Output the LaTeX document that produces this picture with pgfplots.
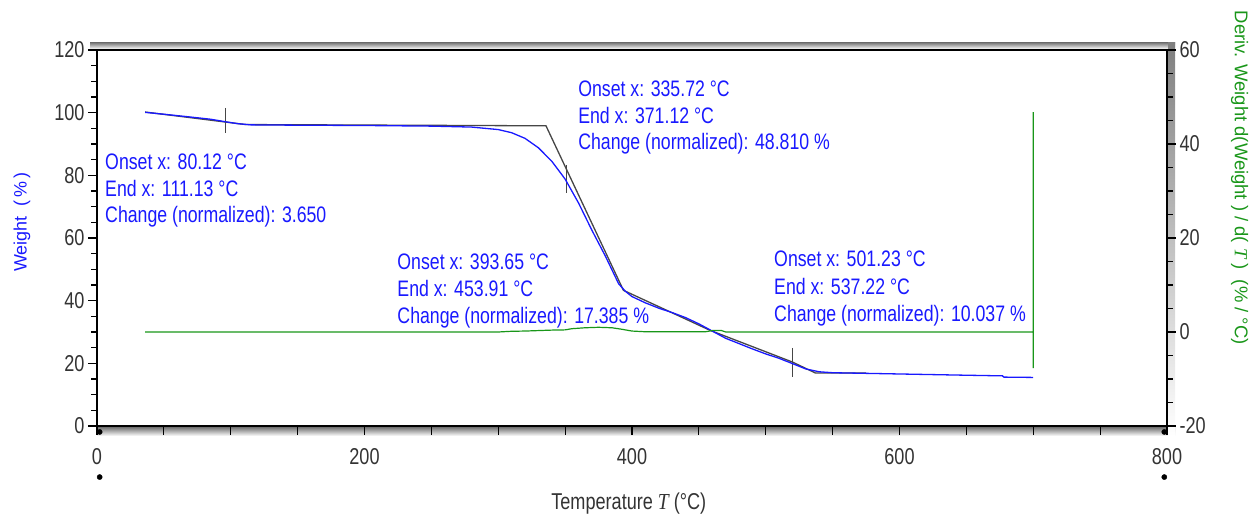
\documentclass[border=0pt]{standalone}
\usepackage{pgfplots}
\pgfplotsset{compat=1.18}
\usepackage{fontspec}
\setmainfont{Liberation Sans}
\newfontfamily\narrow[FakeStretch=0.79]{Liberation Sans}
\newfontfamily\serifnarrow[FakeStretch=0.85]{Liberation Serif}
\newfontfamily\serifit{Liberation Serif}
\definecolor{dtg}{RGB}{25,150,25}
\definecolor{tgblue}{RGB}{25,25,255}
\definecolor{tang}{RGB}{70,70,70}
\definecolor{shade}{RGB}{228,228,228}

\begin{document}
\begin{tikzpicture}[x=1bp,y=1bp]
\path[use as bounding box] (0,0) rectangle (1257,522);
% decorative shadow bands around the frame
\fill[shade] (90,473) rectangle (1175,479);
\fill[shade] (97,86) rectangle (1175,94);
\fill[shade] (1168,86) rectangle (1175,479);

\pgfplotsset{
  myframe/.style={
    at={(97bp,96bp)}, anchor=south west,
    scale only axis, width=1070bp, height=376bp,
    xmin=0, xmax=800,
    tick align=outside,
    major tick length=9bp, minor tick length=6bp,
    every tick/.style={black, line width=1.1bp},
    axis line style={line width=1.5bp, black},
    ticklabel style={font=\narrow\fontsize{23}{23}\selectfont, text=black!80},
    /pgf/number format/assume math mode=true,
    clip=false,
  }
}

\begin{axis}[myframe,
  ymin=0, ymax=120,
  xtick={0,50,...,800},
  xticklabels={0,,,,200,,,,400,,,,600,,,,800},
  ytick={0,20,...,120}, minor y tick num=3,
  xtick pos=bottom, ytick pos=left,
  xticklabel style={yshift=-10bp},
]
% tangent construction lines
\addplot[tang, line width=1.3bp] coordinates {
 (36,100.2) (111.1,96.2) (335.7,95.8) (393.6,43.3) (458,30.6) (520,20.4) (537.2,16.9) (575,16.9)
};
% crosshair markers
\addplot[tang, line width=1.1bp] coordinates {(96,101.5) (96,93.5)};
\addplot[tang, line width=1.1bp] coordinates {(350.7,83.3) (350.7,74.4)};
\addplot[tang, line width=1.1bp] coordinates {(520,24.9) (520,15.6)};
% TGA weight curve
\addplot[tgblue, line width=1.3bp] coordinates {
 (36,100.1) (50,99.5) (70,98.6) (85,97.9) (96,97.1) (105,96.5) (115,96.1) (150,96.0)
 (200,95.9) (250,95.7) (280,95.4) (300,94.6) (310,93.6) (320,91.8) (330,88.8)
 (340,84.5) (350,78.8) (360,71.2) (370,62.5) (380,54.3) (390,45.4) (395,43.0)
 (400,41.3) (410,39.3) (420,37.6) (430,36.2) (440,34.6) (450,32.6) (460,30.3)
 (470,28.0) (480,26.3) (490,24.6) (500,23.0) (510,21.6) (520,19.9) (530,18.2)
 (540,17.3) (550,17.0) (575,16.8) (600,16.6) (650,16.2) (677,16.0) (678,15.6) (700,15.5)
};
% decorative dots
\addplot[only marks, mark=*, mark size=2.6bp, black] coordinates {(2,-1.9) (2,-16.3) (798,-1.9) (798,-16.3)};

% annotations
\begin{scope}[every node/.style={anchor=base west, inner sep=0pt, text=tgblue, font=\narrow\fontsize{22.5}{22.5}\selectfont}]
\node at (axis cs:6.0,82.0) {Onset x: 80.12 °C};
\node at (axis cs:6.0,73.4) {End x: 111.13 °C};
\node at (axis cs:6.0,64.9) {Change (normalized): 3.650};
\node at (axis cs:359.7,105.3) {Onset x: 335.72 °C};
\node at (axis cs:359.7,96.6) {End x: 371.12 °C};
\node at (axis cs:359.7,88.1) {Change (normalized): 48.810 \%};
\node at (axis cs:224.5,49.8) {Onset x: 393.65 °C};
\node at (axis cs:224.5,41.3) {End x: 453.91 °C};
\node at (axis cs:224.5,32.8) {Change (normalized): 17.385 \%};
\node at (axis cs:506.2,50.8) {Onset x: 501.23 °C};
\node at (axis cs:506.2,42.0) {End x: 537.22 °C};
\node at (axis cs:506.2,33.3) {Change (normalized): 10.037 \%};
\end{scope}

% axis titles
\node[rotate=90, text=tgblue, font=\fontsize{18}{18}\selectfont] at (rel axis cs:-0.070,0.5426) {Weight\ \ (\,\%\,)};
\node[text=black!80, font=\narrow\fontsize{23}{23}\selectfont] at (rel axis cs:0.497,-0.2074) {Temperature {\serifnarrow\itshape T} (°C)};
\node[rotate=-90, text=dtg, font=\fontsize{18.5}{18.5}\selectfont] at (rel axis cs:1.068,0.66) {Deriv. Weight d(Weight ) / d( {\serifit\itshape T} )\ \ (\% / °C)};
\end{axis}

\begin{axis}[myframe,
  ymin=-20, ymax=60,
  axis y line*=right, axis x line=none,
  ytick={-20,0,...,60}, minor y tick num=3,
]
\addplot[dtg, line width=1.2bp] coordinates {
 (36,0) (300,0) (310,0.15) (320,0.2) (330,0.3) (340,0.4) (350,0.45) (355,0.7)
 (365,0.9) (375,1.0) (385,0.9) (392,0.6) (400,0.2) (410,0.05) (455,0.05) (460,0.3)
 (467,0.3) (470,0) (700,0) (700,46.8) (700,-7.7)
};
\end{axis}
\end{tikzpicture}
\end{document}
